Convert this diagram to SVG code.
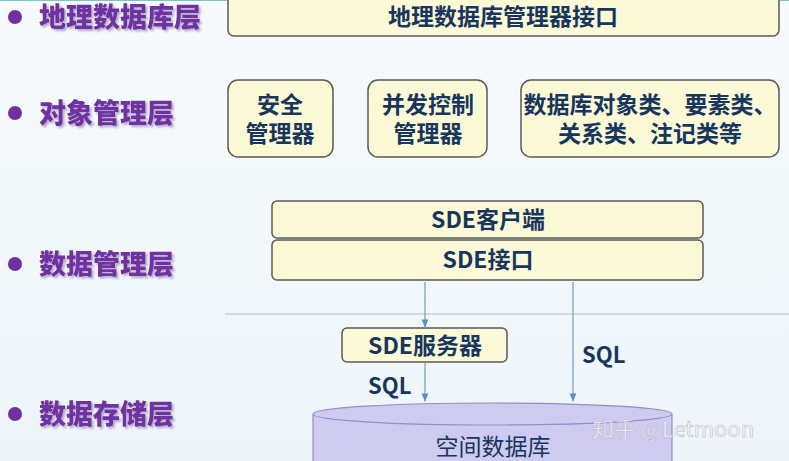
<svg xmlns="http://www.w3.org/2000/svg" width="789" height="461" viewBox="0 0 789 461">
<defs>
<style>
.layer{font-family:"Noto Sans CJK SC","Noto Sans",sans-serif;font-weight:900;font-size:27px;fill:#7030a0;filter:url(#sh);}
.box{fill:#fcf9d6;stroke:#5a5a5a;stroke-width:1.5;}
.bt{font-family:"Noto Sans CJK SC","Noto Sans",sans-serif;font-weight:700;font-size:23px;fill:#17365d;text-anchor:middle;}
.conn{stroke:#6f9bc8;stroke-width:1.2;fill:none;}
.sql{font-family:"Noto Sans CJK SC","Noto Sans",sans-serif;font-weight:700;font-size:22px;fill:#17365d;}
</style>
<filter id="sh" x="-5%" y="-20%" width="115%" height="150%">
<feDropShadow dx="2" dy="2" stdDeviation="1" flood-color="#9a86b8" flood-opacity="0.7"/>
</filter>
<marker id="ah" viewBox="0 0 10 10" refX="9" refY="5" markerWidth="7" markerHeight="7" orient="auto">
<path d="M0,1 L10,5 L0,9 z" fill="#5b8fc4"/>
</marker>
<linearGradient id="bg" x1="0" y1="0" x2="0" y2="1">
<stop offset="0" stop-color="#f6fafc"/><stop offset="1" stop-color="#eef5f9"/>
</linearGradient>
</defs>
<rect x="0" y="0" width="789" height="461" fill="url(#bg)"/>
<line x1="0" y1="0.5" x2="789" y2="0.5" stroke="#7fc4c4" stroke-width="1"/>
<line x1="225" y1="314" x2="789" y2="314" stroke="#a9c3d6" stroke-width="1"/>

<g id="layer-labels">
<circle cx="15" cy="17" r="7" fill="#7030a0"/>
<text class="layer" x="39" y="27">地理数据库层</text>
<circle cx="15" cy="113" r="7" fill="#7030a0"/>
<text class="layer" x="39" y="123">对象管理层</text>
<circle cx="15" cy="264" r="7" fill="#7030a0"/>
<text class="layer" x="39" y="274">数据管理层</text>
<circle cx="15" cy="414" r="7" fill="#7030a0"/>
<text class="layer" x="39" y="424">数据存储层</text>
</g>

<g id="gdb-interface">
<rect class="box" x="228" y="-8" width="551" height="44" rx="6"/>
<text class="bt" x="503" y="25">地理数据库管理器接口</text>
</g>
<g id="security-manager">
<rect class="box" x="228" y="80" width="105" height="77" rx="10"/>
<text class="bt" x="280" y="113">安全</text>
<text class="bt" x="280" y="142">管理器</text>
</g>
<g id="concurrency-manager">
<rect class="box" x="368" y="80" width="119" height="77" rx="10"/>
<text class="bt" x="428" y="113">并发控制</text>
<text class="bt" x="428" y="142">管理器</text>
</g>
<g id="db-objects">
<rect class="box" x="521" y="80" width="258" height="77" rx="10"/>
<text class="bt" x="650" y="113">数据库对象类、要素类、</text>
<text class="bt" x="650" y="142">关系类、注记类等</text>
</g>
<g id="sde-client">
<rect class="box" x="272" y="201" width="431" height="37" rx="5"/>
<text class="bt" x="488" y="228">SDE客户端</text>
</g>
<g id="sde-interface">
<rect class="box" x="272" y="240" width="431" height="40" rx="5"/>
<text class="bt" x="488" y="268">SDE接口</text>
</g>
<g id="sde-server">
<rect class="box" x="342" y="328" width="165" height="34" rx="5"/>
<text class="bt" x="425" y="354">SDE服务器</text>
</g>
<g id="spatial-db">
<path d="M313,414 L313,470 L672,470 L672,414" fill="#cfcaf0" stroke="#8d8fc8" stroke-width="1.2"/>
<ellipse cx="492.5" cy="414" rx="179.5" ry="11" fill="#cfcaf0" stroke="#8d8fc8" stroke-width="1.2"/>
<text x="493" y="455" font-family="Noto Sans CJK SC,Noto Sans,sans-serif" font-size="23" fill="#17365d" text-anchor="middle">空间数据库</text>
</g>

<g id="connectors">
<line class="conn" x1="425" y1="282" x2="425" y2="327" marker-end="url(#ah)"/>
<line class="conn" x1="425" y1="362" x2="425" y2="401" marker-end="url(#ah)"/>
<line class="conn" x1="573" y1="282" x2="573" y2="401" marker-end="url(#ah)"/>
<text class="sql" x="368" y="394">SQL</text>
<text class="sql" x="582" y="363">SQL</text>
</g>

<text x="592" y="437" font-family="Noto Sans CJK SC,Noto Sans,sans-serif" font-size="22" fill="#ffffff" fill-opacity="0.85" stroke="#b8b8c8" stroke-width="0.6">知乎 @Letmoon</text>
</svg>
